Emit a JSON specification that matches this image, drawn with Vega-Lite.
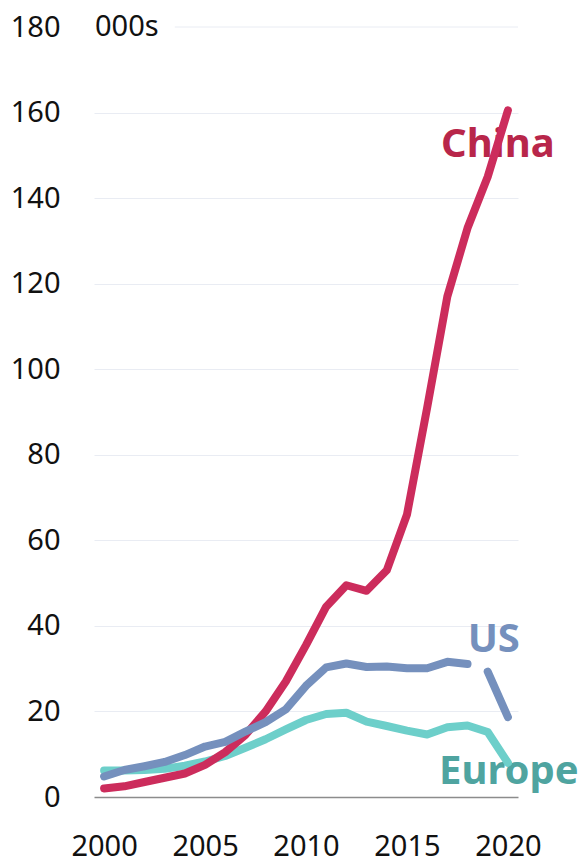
{
  "$schema": "https://vega.github.io/schema/vega-lite/v6.json",
  "width": 424,
  "height": 770,
  "autosize": "none",
  "padding": {"left": 94, "top": 27, "right": 66, "bottom": 62},
  "background": "white",
  "config": {"view": {"stroke": null}, "font": "Noto Sans"},
  "datasets": {
    "series": [
      {"year": 2000, "series": "Europe", "seg": "e", "value": 6.2},
      {"year": 2001, "series": "Europe", "seg": "e", "value": 6.2},
      {"year": 2002, "series": "Europe", "seg": "e", "value": 6.3},
      {"year": 2003, "series": "Europe", "seg": "e", "value": 6.6},
      {"year": 2004, "series": "Europe", "seg": "e", "value": 7.3},
      {"year": 2005, "series": "Europe", "seg": "e", "value": 8.3},
      {"year": 2006, "series": "Europe", "seg": "e", "value": 9.6},
      {"year": 2007, "series": "Europe", "seg": "e", "value": 11.5},
      {"year": 2008, "series": "Europe", "seg": "e", "value": 13.5},
      {"year": 2009, "series": "Europe", "seg": "e", "value": 15.8},
      {"year": 2010, "series": "Europe", "seg": "e", "value": 18.0},
      {"year": 2011, "series": "Europe", "seg": "e", "value": 19.4},
      {"year": 2012, "series": "Europe", "seg": "e", "value": 19.7},
      {"year": 2013, "series": "Europe", "seg": "e", "value": 17.6},
      {"year": 2014, "series": "Europe", "seg": "e", "value": 16.6},
      {"year": 2015, "series": "Europe", "seg": "e", "value": 15.5},
      {"year": 2016, "series": "Europe", "seg": "e", "value": 14.6},
      {"year": 2017, "series": "Europe", "seg": "e", "value": 16.3},
      {"year": 2018, "series": "Europe", "seg": "e", "value": 16.7},
      {"year": 2019, "series": "Europe", "seg": "e", "value": 15.2},
      {"year": 2020, "series": "Europe", "seg": "e", "value": 8.0},
      {"year": 2000, "series": "China", "seg": "c", "value": 2.0},
      {"year": 2001, "series": "China", "seg": "c", "value": 2.5},
      {"year": 2002, "series": "China", "seg": "c", "value": 3.5},
      {"year": 2003, "series": "China", "seg": "c", "value": 4.5},
      {"year": 2004, "series": "China", "seg": "c", "value": 5.5},
      {"year": 2005, "series": "China", "seg": "c", "value": 7.5},
      {"year": 2006, "series": "China", "seg": "c", "value": 10.5},
      {"year": 2007, "series": "China", "seg": "c", "value": 14.5},
      {"year": 2008, "series": "China", "seg": "c", "value": 20.0},
      {"year": 2009, "series": "China", "seg": "c", "value": 27.0},
      {"year": 2010, "series": "China", "seg": "c", "value": 35.5},
      {"year": 2011, "series": "China", "seg": "c", "value": 44.5},
      {"year": 2012, "series": "China", "seg": "c", "value": 49.5},
      {"year": 2013, "series": "China", "seg": "c", "value": 48.2},
      {"year": 2014, "series": "China", "seg": "c", "value": 53.0},
      {"year": 2015, "series": "China", "seg": "c", "value": 66.0},
      {"year": 2016, "series": "China", "seg": "c", "value": 91.0},
      {"year": 2017, "series": "China", "seg": "c", "value": 117.0},
      {"year": 2018, "series": "China", "seg": "c", "value": 133.0},
      {"year": 2019, "series": "China", "seg": "c", "value": 145.0},
      {"year": 2020, "series": "China", "seg": "c", "value": 160.5},
      {"year": 2000, "series": "US", "seg": "u1", "value": 4.8},
      {"year": 2001, "series": "US", "seg": "u1", "value": 6.3},
      {"year": 2002, "series": "US", "seg": "u1", "value": 7.2},
      {"year": 2003, "series": "US", "seg": "u1", "value": 8.2},
      {"year": 2004, "series": "US", "seg": "u1", "value": 9.8},
      {"year": 2005, "series": "US", "seg": "u1", "value": 11.8},
      {"year": 2006, "series": "US", "seg": "u1", "value": 12.9},
      {"year": 2007, "series": "US", "seg": "u1", "value": 15.3},
      {"year": 2008, "series": "US", "seg": "u1", "value": 17.5},
      {"year": 2009, "series": "US", "seg": "u1", "value": 20.5},
      {"year": 2010, "series": "US", "seg": "u1", "value": 26.0},
      {"year": 2011, "series": "US", "seg": "u1", "value": 30.3},
      {"year": 2012, "series": "US", "seg": "u1", "value": 31.2},
      {"year": 2013, "series": "US", "seg": "u1", "value": 30.4},
      {"year": 2014, "series": "US", "seg": "u1", "value": 30.5},
      {"year": 2015, "series": "US", "seg": "u1", "value": 30.1},
      {"year": 2016, "series": "US", "seg": "u1", "value": 30.1},
      {"year": 2017, "series": "US", "seg": "u1", "value": 31.6},
      {"year": 2018, "series": "US", "seg": "u1", "value": 31.1},
      {"year": 2019, "series": "US", "seg": "u2", "value": 29.3},
      {"year": 2020, "series": "US", "seg": "u2", "value": 18.7}
    ],
    "labels": [
      {"series": "China", "label": "China", "year": 2019.5, "value": 152.3},
      {"series": "US", "label": "US", "year": 2019.3, "value": 36.7},
      {"series": "Europe", "label": "Europe", "year": 2020.05, "value": 5.8}
    ],
    "unit": [
      {"label": "000s", "year": 1999.55, "value": 180}
    ],
    "top": [
      {"year": 2003.5, "year2": 2020.5, "value": 180}
    ]
  },
  "encoding": {
    "x": {
      "field": "year", "type": "quantitative",
      "scale": {"domain": [1999.5, 2020.5], "nice": false, "zero": false},
      "axis": {
        "values": [2000, 2005, 2010, 2015, 2020], "format": "d",
        "ticks": false, "grid": false,
        "domainColor": "#8c8c8c", "domainWidth": 1.5,
        "labelFontSize": 29, "labelColor": "#111111", "labelPadding": 35,
        "labelFont": "Noto Sans", "title": null
      }
    },
    "y": {
      "field": "value", "type": "quantitative",
      "scale": {"domain": [0, 180], "nice": false},
      "axis": {
        "values": [0, 20, 40, 60, 80, 100, 120, 140, 160, 180],
        "ticks": false, "domain": false,
        "gridColor": "#e9ecf3", "gridWidth": 1,
        "gridOpacity": {"condition": {"test": "datum.value === 180 || datum.value === 0", "value": 0}, "value": 1},
        "labelFontSize": 29, "labelColor": "#111111", "labelPadding": 34,
        "labelFont": "Noto Sans", "title": null
      }
    }
  },
  "layer": [
    {
      "data": {"name": "top"},
      "mark": {"type": "rule", "color": "#e9ecf3", "strokeWidth": 1},
      "encoding": {
        "x2": {"field": "year2"}
      }
    },
    {
      "data": {"name": "unit"},
      "mark": {"type": "text", "align": "left", "baseline": "middle", "fontSize": 29, "color": "#111111"},
      "encoding": {
        "text": {"field": "label"}
      }
    },
    {
      "data": {"name": "labels"},
      "mark": {"type": "text", "align": "center", "baseline": "middle", "fontSize": 40, "fontWeight": "bold"},
      "encoding": {
        "text": {"field": "label"},
        "fill": {"field": "series", "type": "nominal", "scale": {"domain": ["China", "US", "Europe"], "range": ["#b8264a", "#7590bd", "#4fa4a0"]}, "legend": null}
      }
    },
    {
      "data": {"name": "series"},
      "mark": {"type": "line", "strokeWidth": 8, "strokeCap": "round", "strokeJoin": "round", "interpolate": "linear"},
      "encoding": {
        "stroke": {"field": "series", "type": "nominal", "scale": {"domain": ["Europe", "China", "US"], "range": ["#6dcfca", "#cc2c5c", "#7590bd"]}, "legend": null},
        "detail": {"field": "seg"},
        "order": {"field": "year"}
      }
    }
  ]
}
